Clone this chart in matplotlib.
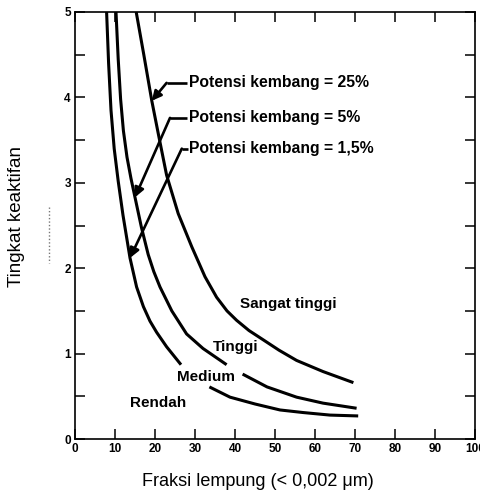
import matplotlib
matplotlib.use("Agg")
import matplotlib.pyplot as plt
from matplotlib.lines import Line2D

# ---- data ----
# boundary Rendah / Medium  (Potensi kembang = 1,5%)
c1a_x = [7.9, 8.4, 9.0, 9.8, 10.8, 12.0, 13.75, 15.4, 17.1, 18.75, 20.4, 22.9, 26.5]
c1a_y = [5.0, 4.4, 3.85, 3.4, 3.02, 2.62, 2.12, 1.78, 1.55, 1.38, 1.25, 1.08, 0.87]
c1b_x = [33.6, 38.75, 45.0, 51.25, 57.0, 63.75, 70.8]
c1b_y = [0.61, 0.49, 0.41, 0.34, 0.31, 0.28, 0.27]
# boundary Medium / Tinggi  (Potensi kembang = 5%)
c2a_x = [10.25, 10.8, 11.4, 12.1, 13.0, 14.0, 15.0, 16.6, 18.3, 19.7, 21.25, 24.2, 27.9, 32.0, 37.9]
c2a_y = [5.0, 4.45, 3.98, 3.61, 3.3, 3.05, 2.83, 2.48, 2.16, 1.96, 1.78, 1.50, 1.23, 1.06, 0.87]
c2b_x = [41.9, 48.0, 55.4, 62.0, 70.4]
c2b_y = [0.76, 0.61, 0.49, 0.42, 0.36]
# boundary Tinggi / Sangat tinggi  (Potensi kembang = 25%)
c3_x = [15.3, 17.2, 19.2, 20.8, 22.9, 25.8, 29.2, 32.5, 35.4, 38.0, 40.4, 43.5, 47.1, 51.0, 55.4, 62.0, 69.6]
c3_y = [5.0, 4.5, 3.96, 3.58, 3.09, 2.64, 2.25, 1.9, 1.66, 1.50, 1.39, 1.27, 1.16, 1.04, 0.92, 0.79, 0.66]

ann_labels = ["Potensi kembang = 25%", "Potensi kembang = 5%", "Potensi kembang = 1,5%"]
ann_tip_x = [19.2, 15.0, 13.75]
ann_tip_y = [3.96, 2.83, 2.12]
ann_elbow_x = [22.9, 23.75, 26.7]
ann_y = [4.17, 3.76, 3.40]
ann_text_x = [28.4, 28.4, 28.6]

zone_labels = ["Sangat tinggi", "Tinggi", "Medium", "Rendah"]
zone_x = [41.25, 34.4, 25.6, 13.75]
zone_y = [1.58, 1.08, 0.73, 0.42]

x_ticks = [0, 10, 20, 30, 40, 50, 60, 70, 80, 90, 100]
y_ticks = [0, 0.5, 1, 1.5, 2, 2.5, 3, 3.5, 4, 4.5, 5]
y_tick_labels = ["0", "", "1", "", "2", "", "3", "", "4", "", "5"]

xlabel = "Fraksi lempung (< 0,002 \u03bcm)"
ylabel = "Tingkat keaktifan"

# ---- figure ----
fam = ["Liberation Sans", "DejaVu Sans"]
plt.rcParams["font.family"] = fam

fig = plt.figure(figsize=(4.81, 5.04), dpi=100)
ax = fig.add_axes([75 / 481, 65 / 504, 400 / 481, 427 / 504])

lw = 2.2
for xs, ys in [(c1a_x, c1a_y), (c1b_x, c1b_y), (c2a_x, c2a_y), (c2b_x, c2b_y), (c3_x, c3_y)]:
    ax.plot(xs, ys, color="black", lw=lw, solid_capstyle="butt", solid_joinstyle="round")

for lab, tx, ty, ex, ay, txx in zip(ann_labels, ann_tip_x, ann_tip_y, ann_elbow_x, ann_y, ann_text_x):
    ax.plot([ex, txx - 0.3], [ay, ay], color="black", lw=1.9, solid_capstyle="butt")
    ax.annotate("", xy=(tx, ty), xytext=(ex, ay),
                arrowprops=dict(arrowstyle="-|>", color="black", lw=1.9,
                                mutation_scale=14, shrinkA=0, shrinkB=0))
    ax.text(txx, ay, lab, ha="left", va="center", fontsize=11.3,
            fontweight="bold", family=fam)

for lab, zx, zy in zip(zone_labels, zone_x, zone_y):
    ax.text(zx, zy, lab, ha="left", va="center", fontsize=11,
            fontweight="bold", family=fam)

ax.set_xlim(0, 100)
ax.set_ylim(0, 5)
ax.set_xticks(x_ticks)
ax.set_xticklabels([str(v) for v in x_ticks], fontweight="bold", fontsize=8.5)
ax.set_yticks(y_ticks)
ax.set_yticklabels(y_tick_labels, fontweight="bold", fontsize=8.5)
ax.tick_params(axis="both", direction="in", length=7, width=1.1, pad=3,
               top=True, right=True)
for s in ax.spines.values():
    s.set_linewidth(1.2)

fig.text(257.5 / 481, (504 - 481.7) / 504, xlabel, ha="center", va="center",
         fontsize=13)
fig.text(17 / 481, (504 - 216.7) / 504, ylabel, ha="center", va="center",
         rotation=90, fontsize=13.5)
fig.add_artist(Line2D([49 / 481, 49 / 481], [(504 - 206.7) / 504, (504 - 263) / 504],
                      transform=fig.transFigure, color="#777777", lw=1.0,
                      linestyle=(0, (1, 1.5))))

fig.savefig("out.png", dpi=100, facecolor="white")
